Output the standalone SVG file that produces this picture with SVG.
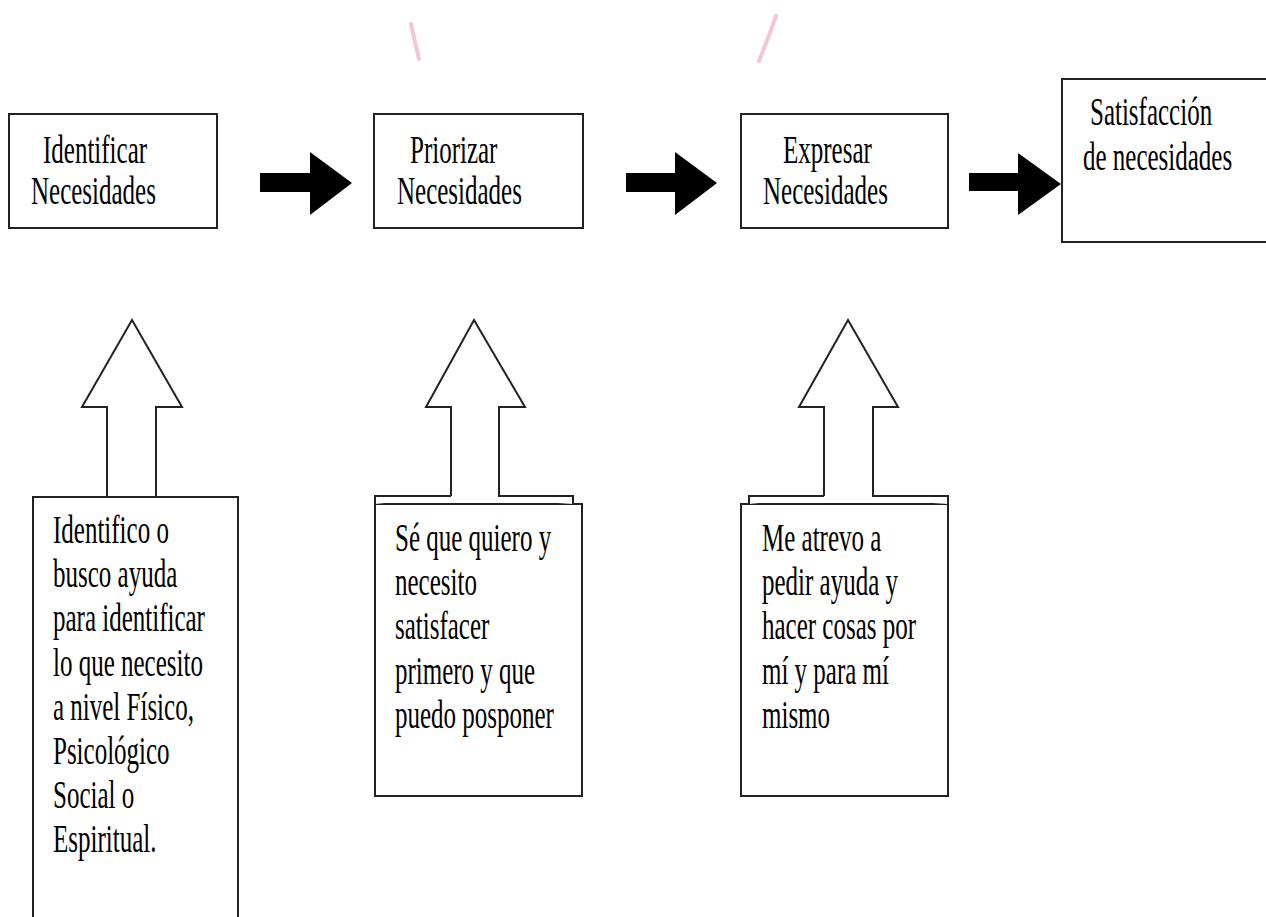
<svg xmlns="http://www.w3.org/2000/svg" width="1266" height="917" viewBox="0 0 1266 917">
<style>
.box{fill:#fff;stroke:#222;stroke-width:2}
.out{fill:#fff;stroke:#222;stroke-width:2;stroke-linejoin:miter}
.blk{fill:#000;stroke:none}
.t{font-family:"Liberation Serif","Times New Roman",serif;font-size:25px;fill:#000}
.mark{stroke:#f0a0b0;stroke-width:4;stroke-linecap:round;opacity:0.6;fill:none}
</style>
<rect width="1266" height="917" fill="#fff"/>
<g id="marks">
<path class="mark" d="M411,24 L415,42 L419,59"/>
<path class="mark" d="M776,16 L768,38 L759,61"/>
</g>
<g id="connectors">
<polygon class="blk" points="260,173 310,173 310,152 352,183 310,215 310,192 260,192"/>
<polygon class="blk" points="626,173 675,173 675,152 717,183 675,215 675,192 626,192"/>
<polygon class="blk" points="969,173 1018,173 1018,153 1061,184 1018,215 1018,191 969,191"/>
</g>
<g id="n1">
<rect class="box" x="9" y="114" width="208" height="114"/>
<text class="t" transform="translate(0,163) scale(1,1.6)"><tspan x="43" y="0">Identificar</tspan><tspan x="31" y="25.6">Necesidades</tspan></text>
</g>
<g id="n2">
<rect class="box" x="374" y="114" width="209" height="114"/>
<text class="t" transform="translate(0,163) scale(1,1.6)"><tspan x="410" y="0">Priorizar</tspan><tspan x="397" y="25.6">Necesidades</tspan></text>
</g>
<g id="n3">
<rect class="box" x="741" y="114" width="207" height="114"/>
<text class="t" transform="translate(0,163) scale(1,1.6)"><tspan x="783" y="0">Expresar</tspan><tspan x="763" y="25.6">Necesidades</tspan></text>
</g>
<g id="n4">
<rect class="box" x="1062" y="79" width="210" height="163"/>
<text class="t" transform="translate(0,125) scale(1,1.6)"><tspan x="1090" y="0">Satisfacción</tspan><tspan x="1083" y="28">de necesidades</tspan></text>
</g>
<g id="a1">
<rect class="box" x="33" y="497" width="205" height="440"/>
<polygon class="out" points="107,497 107,407 82,407 132,320 182,407 156,407 156,497"/>
<text class="t" transform="translate(0,543) scale(1,1.6)"><tspan x="53" y="0">Identifico o</tspan><tspan x="53" y="27.6">busco ayuda</tspan><tspan x="53" y="55.3">para identificar</tspan><tspan x="53" y="82.9">lo que necesito</tspan><tspan x="53" y="110.5">a nivel Físico,</tspan><tspan x="53" y="138.1">Psicológico</tspan><tspan x="53" y="165.8">Social o</tspan><tspan x="53" y="193.4">Espiritual.</tspan></text>
</g>
<g id="a2">
<rect class="box" x="375" y="504" width="207" height="292"/>
<path class="out" d="M451,496 V407 H426 L474,320 L525,407 H499 V496 H573 V504 M451,496 H375 V504"/>
<text class="t" transform="translate(0,551) scale(1,1.6)"><tspan x="395" y="0">Sé que quiero y</tspan><tspan x="395" y="27.6">necesito</tspan><tspan x="395" y="55.3">satisfacer</tspan><tspan x="395" y="82.9">primero y que</tspan><tspan x="395" y="110.5">puedo posponer</tspan></text>
</g>
<g id="a3">
<rect class="box" x="741" y="504" width="207" height="292"/>
<path class="out" d="M824,496 V407 H799 L848,320 L898,407 H873 V496 H948 V504 M824,496 H749 V504"/>
<text class="t" transform="translate(0,551) scale(1,1.6)"><tspan x="762" y="0">Me atrevo a</tspan><tspan x="762" y="27.6">pedir ayuda y</tspan><tspan x="762" y="55.3">hacer cosas por</tspan><tspan x="762" y="82.9">mí y para mí</tspan><tspan x="762" y="110.5">mismo</tspan></text>
</g>
</svg>
